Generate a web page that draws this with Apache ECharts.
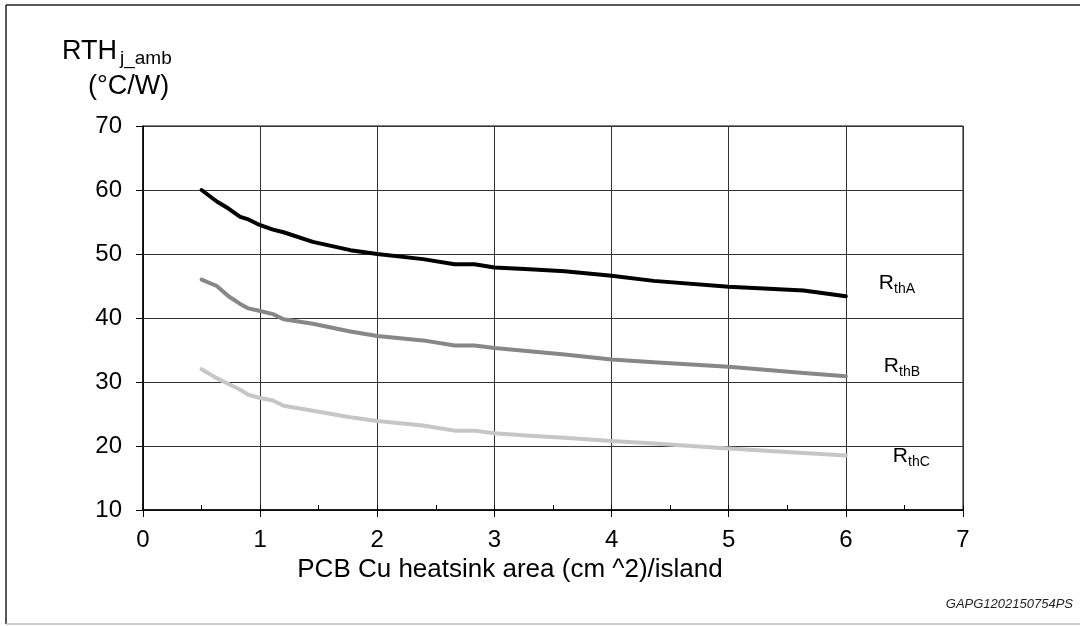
<!DOCTYPE html>
<html>
<head>
<meta charset="utf-8">
<script src="https://cdn.jsdelivr.net/npm/echarts@6/dist/echarts.min.js"></script>
<style>
  html, body { margin: 0; padding: 0; background: #fff; }
  #chart { width: 1080px; height: 626px; }
</style>
</head>
<body>
<div id="chart"></div>
<script>
// PCB copper area (cm^2) per island
const area = [0.5, 0.63, 0.73, 0.83, 0.9, 1.0, 1.11, 1.2, 1.45, 1.77, 2.0, 2.39, 2.66, 2.83, 3.0, 3.3, 3.6, 4.0, 4.36, 5.0, 5.64, 6.0];
// Rth junction-ambient (°C/W)
const rthA = [60.0, 58.2, 57.1, 55.8, 55.4, 54.5, 53.8, 53.4, 51.9, 50.6, 50.0, 49.2, 48.4, 48.4, 47.9, 47.6, 47.3, 46.6, 45.8, 44.9, 44.3, 43.4];
const rthB = [46.0, 45.0, 43.4, 42.2, 41.5, 41.1, 40.6, 39.8, 39.1, 37.9, 37.2, 36.5, 35.7, 35.7, 35.3, 34.8, 34.3, 33.5, 33.1, 32.4, 31.4, 30.9];
const rthC = [32.0, 30.6, 29.7, 28.8, 28.0, 27.5, 27.1, 26.3, 25.5, 24.5, 23.9, 23.2, 22.4, 22.4, 22.0, 21.6, 21.3, 20.8, 20.4, 19.6, 18.9, 18.5];
const seriesNames = ['A', 'B', 'C'];
const xAxisTitle = 'PCB Cu heatsink area (cm ^2)/island';
const figureCode = 'GAPG1202150754PS';

const FONT = '"Liberation Sans", Arial, sans-serif';
const pair = (ys) => area.map((x, i) => [x, ys[i]]);

const subRich = {
  r: { fontFamily: FONT, fontSize: 21, color: '#000', lineHeight: 24, verticalAlign: 'top' },
  s: { fontFamily: FONT, fontSize: 14, color: '#000', lineHeight: 24, verticalAlign: 'bottom', padding: [11, 0, 0, 0] },
};

const makeLine = (name, data, color, offset) => ({
  name: 'Rth' + name,
  type: 'line',
  xAxisIndex: 0,
  data: pair(data),
  symbol: 'none',
  smooth: false,
  lineStyle: { color: color, width: 4, cap: 'round', join: 'round' },
  endLabel: {
    show: true,
    formatter: '{r|R}{s|th' + name + '}',
    offset: offset,
    rich: subRich,
  },
  z: 3,
});

const chart = echarts.init(document.getElementById('chart'), null, { renderer: 'canvas' });

const option = {
  animation: false,
  backgroundColor: '#fff',
  grid: {
    left: 143, right: 117, top: 126, bottom: 116,
    show: true, borderColor: '#000', borderWidth: 1,
  },
  xAxis: [
    {
      type: 'value', min: 0, max: 7, interval: 1,
      axisLine: { show: true, lineStyle: { color: '#000', width: 1.5 } },
      axisTick: { show: true, length: 7, lineStyle: { color: '#000' } },
      axisLabel: { color: '#000', fontSize: 24, fontFamily: FONT, margin: 18 },
      splitLine: { show: true, lineStyle: { color: '#333', width: 1 } },
      name: xAxisTitle,
      nameLocation: 'middle',
      nameGap: 46,
      nameTextStyle: { color: '#000', fontSize: 26, fontFamily: FONT, padding: [0, 86, 0, 0] },
    },
    {
      // minor tick marks pointing up into the plot
      type: 'value', min: 0, max: 7, interval: 0.5, position: 'bottom',
      axisLine: { show: false },
      axisTick: { show: true, inside: true, length: 5, lineStyle: { color: '#000' } },
      axisLabel: { show: false },
      splitLine: { show: false },
    },
  ],
  yAxis: {
    type: 'value', min: 10, max: 70, interval: 10,
    axisLine: { show: true, lineStyle: { color: '#000', width: 1.5 } },
    axisTick: { show: true, length: 7, lineStyle: { color: '#000' } },
    axisLabel: { color: '#000', fontSize: 24, fontFamily: FONT, margin: 21 },
    splitLine: { show: true, lineStyle: { color: '#333', width: 1 } },
  },
  series: [
    makeLine(seriesNames[0], rthA, '#000000', [25, -12]),
    makeLine(seriesNames[1], rthB, '#878787', [30, -9]),
    makeLine(seriesNames[2], rthC, '#c6c6c6', [39, 2]),
  ],
  graphic: [
    // outer frame
    { type: 'line', shape: { x1: 6, y1: 5, x2: 1080, y2: 5 }, style: { stroke: '#222', lineWidth: 1.5 } },
    { type: 'line', shape: { x1: 6, y1: 5, x2: 6, y2: 624 }, style: { stroke: '#222', lineWidth: 1.5 } },
    { type: 'line', shape: { x1: 6, y1: 624, x2: 1080, y2: 624 }, style: { stroke: '#bbb', lineWidth: 1.5 } },
    // y axis title
    {
      type: 'text', left: 62, top: 33,
      style: {
        text: '{a|RTH}{b|j_amb}',
        rich: {
          a: { fontFamily: FONT, fontSize: 27, color: '#000', lineHeight: 30, verticalAlign: 'top' },
          b: { fontFamily: FONT, fontSize: 19, color: '#000', lineHeight: 30, verticalAlign: 'bottom', padding: [16, 0, 0, 3] },
        },
      },
    },
    {
      type: 'text', left: 88, top: 73,
      style: { text: '(°C/W)', fontFamily: FONT, fontSize: 27, fill: '#000' },
    },
    {
      type: 'text', right: 7, top: 598,
      style: { text: figureCode, fontFamily: FONT, fontSize: 13, fontStyle: 'italic', fill: '#222' },
    },
  ],
};

chart.setOption(option);
</script>
</body>
</html>
